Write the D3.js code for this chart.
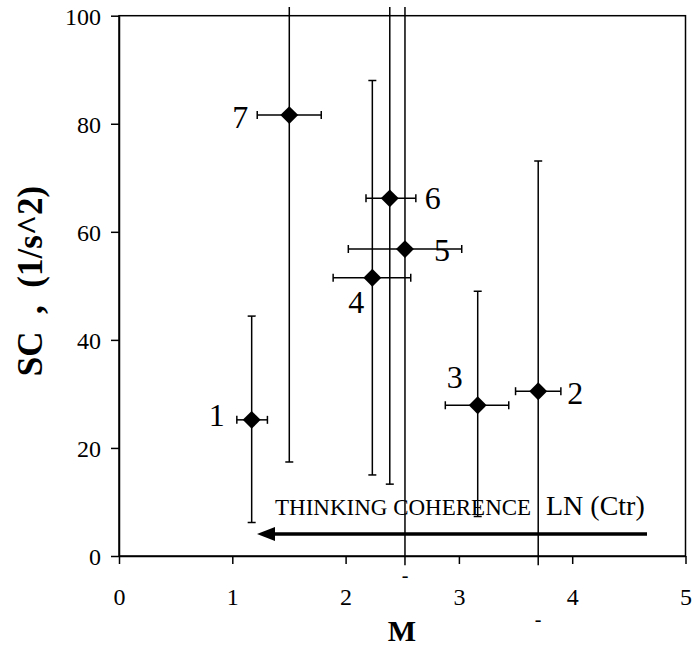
<!DOCTYPE html>
<html>
<head>
<meta charset="utf-8">
<script src="https://cdn.jsdelivr.net/npm/d3@7"></script>
<style>
  body { margin: 0; background: #fff; }
  text { font-family: "Liberation Serif", "Times New Roman", serif; fill: #000; }
</style>
</head>
<body>
<div id="chart"></div>
<script>
// data
var labels = ["1", "2", "3", "4", "5", "6", "7"];
var mVals  = [1.171, 3.70, 3.166, 2.236, 2.524, 2.39, 1.503];
var scVals = [25.2, 30.5, 27.9, 51.5, 56.8, 66.2, 81.6];
var mLo    = [1.04, 3.50, 2.88, 1.89, 2.024, 2.18, 1.22];
var mHi    = [1.31, 3.90, 3.44, 2.575, 3.025, 2.62, 1.785];
var scLo   = [6.2, -10, 7.3, 15.0, -10, 13.3, 17.4];
var scHi   = [44.4, 73.1, 49.0, 88.0, 120, 120, 120];
var xTicks = [0, 1, 2, 3, 4, 5];
var yTicks = [0, 20, 40, 60, 80, 100];

// label placement relative to each point
var labelDx = [-35, 37, -23, -16, 37, 43, -49];
var labelDy = [6, 13, -17, 35, 12, 11, 13];

var width = 695, height = 650;
var margin = { left: 119, right: 9.5, top: 15.7, bottom: 94 };

var svg = d3.select('#chart')
    .append('svg')
    .attr('width', width)
    .attr('height', height);

var x = d3.scaleLinear().domain([0, 5]).range([margin.left, width - margin.right]);
var y = d3.scaleLinear().domain([0, 100]).range([height - margin.bottom, margin.top]);

// error bars are cut a little outside the frame
svg.append('clipPath').attr('id', 'errclip')
    .append('rect')
    .attr('x', 0).attr('width', width)
    .attr('y', y(101.6)).attr('height', y(-1.7) - y(101.6));

// frame
svg.append('rect')
    .attr('x', x(0)).attr('y', y(100))
    .attr('width', x(5) - x(0)).attr('height', y(0) - y(100))
    .attr('fill', 'none').attr('stroke', '#000').attr('stroke-width', 1.5);

// axes
var xAxis = svg.append('g')
    .attr('transform', 'translate(0,' + y(0) + ')')
    .call(d3.axisBottom(x).tickValues(xTicks).tickFormat(d3.format('d'))
        .tickSize(8).tickSizeOuter(0).tickPadding(24));
var yAxis = svg.append('g')
    .attr('transform', 'translate(' + x(0) + ',0)')
    .call(d3.axisLeft(y).tickValues(yTicks).tickFormat(d3.format('d'))
        .tickSize(8).tickSizeOuter(0).tickPadding(10));
[xAxis, yAxis].forEach(function (g) {
    g.attr('font-family', '"Liberation Serif", serif').attr('font-size', 24);
    g.select('.domain').attr('stroke', '#000').attr('stroke-width', 1.5);
    g.selectAll('.tick line').attr('stroke', '#000').attr('stroke-width', 1.5);
    g.selectAll('.tick text').attr('fill', '#000');
});
yAxis.selectAll('.tick text').attr('dy', '0.35em');

var pts = d3.range(labels.length);
var bars = svg.append('g').attr('clip-path', 'url(#errclip)')
    .attr('stroke', '#000').attr('stroke-width', 1.5);

// vertical error bars
bars.selectAll('.vbar').data(pts).enter().append('line')
    .attr('x1', function (i) { return x(mVals[i]); })
    .attr('x2', function (i) { return x(mVals[i]); })
    .attr('y1', function (i) { return y(scLo[i]); })
    .attr('y2', function (i) { return y(scHi[i]); });
bars.selectAll('.vcapLo').data(pts).enter().append('line')
    .attr('x1', function (i) { return x(mVals[i]) - 4; })
    .attr('x2', function (i) { return x(mVals[i]) + 4; })
    .attr('y1', function (i) { return y(scLo[i]); })
    .attr('y2', function (i) { return y(scLo[i]); });
bars.selectAll('.vcapHi').data(pts).enter().append('line')
    .attr('x1', function (i) { return x(mVals[i]) - 4; })
    .attr('x2', function (i) { return x(mVals[i]) + 4; })
    .attr('y1', function (i) { return y(scHi[i]); })
    .attr('y2', function (i) { return y(scHi[i]); });

// horizontal error bars
bars.selectAll('.hbar').data(pts).enter().append('line')
    .attr('x1', function (i) { return x(mLo[i]); })
    .attr('x2', function (i) { return x(mHi[i]); })
    .attr('y1', function (i) { return y(scVals[i]); })
    .attr('y2', function (i) { return y(scVals[i]); });
bars.selectAll('.hcap').data(pts.concat(pts)).enter().append('line')
    .attr('x1', function (i, k) { return x(k < pts.length ? mLo[i] : mHi[i]); })
    .attr('x2', function (i, k) { return x(k < pts.length ? mLo[i] : mHi[i]); })
    .attr('y1', function (i) { return y(scVals[i]) - 4; })
    .attr('y2', function (i) { return y(scVals[i]) + 4; });

// diamonds
var diamond = d3.symbol().type(d3.symbolSquare).size(160);
svg.selectAll('.pt').data(pts).enter().append('path')
    .attr('d', diamond)
    .attr('transform', function (i) {
        return 'translate(' + x(mVals[i]) + ',' + y(scVals[i]) + ') rotate(45)';
    })
    .attr('fill', '#000');

// point labels
svg.selectAll('.lbl').data(pts).enter().append('text')
    .attr('x', function (i) { return x(mVals[i]) + labelDx[i]; })
    .attr('y', function (i) { return y(scVals[i]) + labelDy[i]; })
    .attr('text-anchor', 'middle')
    .style('font-size', '32px')
    .text(function (i) { return labels[i]; });

// stray dashes under the axis
svg.append('text').attr('x', x(mVals[4])).attr('y', 582)
    .attr('text-anchor', 'middle').style('font-size', '20px').text('-');
svg.append('text').attr('x', x(mVals[1])).attr('y', 626)
    .attr('text-anchor', 'middle').style('font-size', '20px').text('-');

// arrow
svg.append('line')
    .attr('x1', 647).attr('x2', 272).attr('y1', 534).attr('y2', 534)
    .attr('stroke', '#000').attr('stroke-width', 3.5);
svg.append('path')
    .attr('d', 'M257,534 L275,527 L275,541 Z')
    .attr('fill', '#000');

svg.append('text').attr('x', 275).attr('y', 515)
    .style('font-size', '23px').text('THINKING COHERENCE');
svg.append('text').attr('x', 546).attr('y', 515)
    .style('font-size', '28px').text('LN (Ctr)');

// axis titles
svg.append('text').attr('x', 402).attr('y', 641)
    .attr('text-anchor', 'middle')
    .style('font-size', '30px').style('font-weight', 'bold').text('M');
svg.append('text')
    .attr('transform', 'translate(42,281) rotate(-90)')
    .attr('text-anchor', 'middle')
    .style('font-size', '35px').style('font-weight', 'bold')
    .style('white-space', 'pre')
    .text('SC  ,  (1/s^2)');
</script>
</body>
</html>
